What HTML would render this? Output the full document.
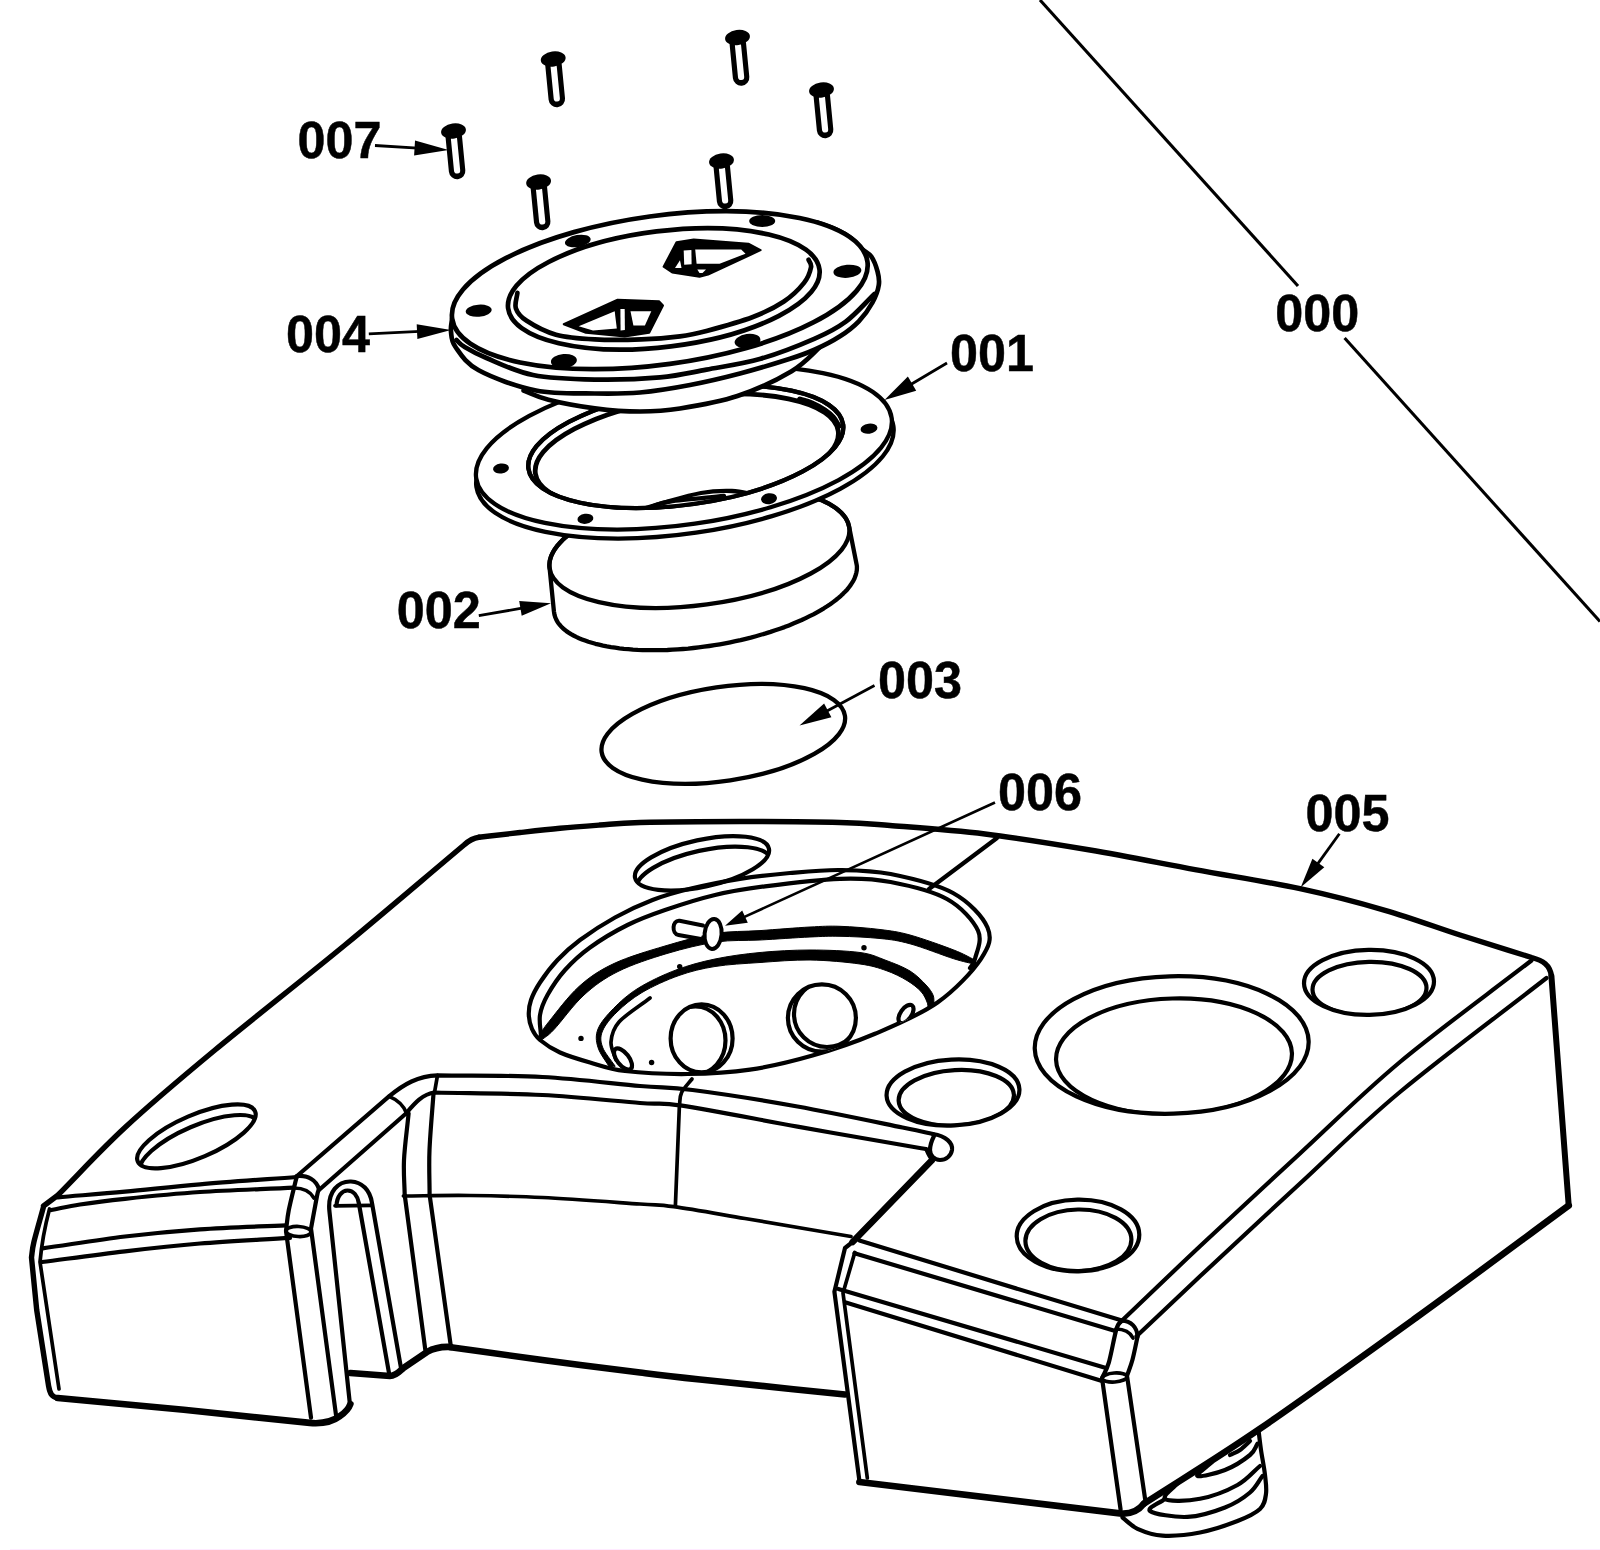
<!DOCTYPE html>
<html lang="en"><head><meta charset="utf-8"><title>Exploded parts diagram</title>
<style>
html,body{margin:0;padding:0;background:#fff}
body{width:1600px;height:1550px;overflow:hidden;font-family:"Liberation Sans",sans-serif}
svg{display:block}
path,ellipse,line,circle,polyline{fill:none;stroke:#000;stroke-width:4.2;stroke-linecap:round;stroke-linejoin:round}
.g4 path,.g4 ellipse{stroke-width:4.7}
.g1 path,.g1 ellipse{stroke-width:4.3}
.t{stroke-width:6.6}
.m{stroke-width:5.4}
.n{stroke-width:3.7}
.h{stroke-width:1.6}
.w{fill:#fff}
.k{fill:#000}
.kk{fill:#000;stroke:none}
.ww{fill:#fff;stroke:none}
text{font-family:"Liberation Sans",sans-serif;font-weight:700;font-size:52px;fill:#000;stroke:#000;stroke-width:.5}
</style></head>
<body>
<svg width="1600" height="1550" viewBox="0 0 1600 1550">
<rect x="0" y="0" width="1600" height="1550" class="ww"/>
<!-- p_base -->
<g id="base">
<path d="M479 837.3C492.7 835.7 506.5 834 520 832.5C533.5 831 546.7 829.5 560 828.3C573.3 827 586.7 826 600 825C613.3 824 616.7 823.1 640 822.5C663.3 821.9 706.7 821.5 740 821.5C773.3 821.5 815 821.8 840 822.5C865 823.2 865.8 823.6 890 825.5C914.2 827.4 951.7 829.9 985 834C1018.3 838.1 1055 844.1 1090 850C1125 855.9 1160 863.1 1195 869.6C1230 876.1 1268.3 881.9 1300 888.7C1331.7 895.5 1358.3 902.6 1385 910.3C1411.7 918 1435.5 927.1 1460 935C1484.5 942.9 1507.8 950 1531.7 957.5C1543 960.5 1550 965 1551.4 976" class="m"/>
<path d="M1551.4 976L1568.7 1205.5" class="t" style="stroke-width:6"/>
<path d="M1568.7 1205.5C1517.5 1243.2 1466.7 1281.2 1415 1318.5C1363.3 1355.8 1304 1398.6 1258.8 1429.5C1213.6 1460.4 1182.1 1479 1143.8 1503.8" class="t"/>
<path d="M479 837.3C473 838 469 840.5 464 845C424.3 878.3 386.5 910.8 345 945C303.5 979.2 251.7 1019.6 215 1050C178.3 1080.4 151.2 1103.2 125 1127.5C98.8 1151.8 80 1172.8 57.5 1195.5L43.5 1206" class="m"/>
<path d="M43.3 1207.6C40.2 1219 36 1233.4 34 1241.7C32 1250 32.3 1252.2 31.5 1257.5L36.7 1310L48.6 1386C50 1394 52 1397 57.7 1398" class="m"/>
<path d="M57.7 1398L183.7 1409.8L309.8 1422.9C322 1424 332 1422 340 1416C346 1412 349 1408 350.4 1404" class="t"/>
<path d="M57.7 1197.3C80.1 1195.4 101.3 1193.9 125 1191.7C148.7 1189.5 171.4 1186.8 200 1184.3C228.6 1181.8 264.4 1179.4 296.6 1177"/>
<path d="M51.3 1210C60.9 1208.2 67.7 1206.4 80 1204.5C92.3 1202.6 105 1200.9 125 1198.8C145 1196.7 171.8 1193.9 200 1192C228.2 1190.1 262.7 1189.1 294 1187.6"/>
<path d="M42.5 1248.3C70 1244.4 98.8 1239.7 125 1236.5C151.2 1233.3 173.2 1231.2 200 1229.3C226.8 1227.4 257.3 1226.6 286 1225.3"/>
<path d="M42 1262C69.7 1258.4 98.7 1254.4 125 1251.3C151.3 1248.2 172.5 1245.8 200 1243.5C227.5 1241.2 260 1239.7 290 1237.8"/>
<path d="M49.5 1209C45 1226 41.5 1245 40 1262L59 1389" class="n"/>
<path d="M296.6 1177C294 1188 290.6 1201 288.8 1210C287 1219 286.9 1224 286 1231L311 1417.6"/>
<path d="M319 1189C318.3 1191.3 318.3 1189.4 317 1196C315.7 1202.6 313 1217.7 311 1228.6L336 1415"/>
<path d="M296.6 1176C308 1175 316 1180 319 1189"/>
<path d="M294 1188C303 1188 310 1191 314 1198" class="n"/>
<ellipse cx="298.5" cy="1231.5" rx="12.5" ry="5" transform="rotate(3 298.5 1231.5)" class="n"/>
<path d="M297 1176L389 1096.4C404 1084 418 1076 437.5 1075.4C472.5 1075.9 508.8 1075.2 542.5 1077C576.2 1078.8 615 1083.8 640 1086C665 1088.2 666.2 1086.6 692.5 1090C718.8 1093.4 762.5 1100.2 797.5 1106.5C832.5 1112.8 879.9 1122.9 902.5 1127.5C925.1 1132.1 922.8 1131.8 933 1134"/>
<path d="M319 1190L406 1113.5C414 1104 422 1094 434.9 1092.5C470.8 1093.3 508.3 1093.2 542.5 1095C576.7 1096.8 616.8 1101.2 640 1103C663.2 1104.8 655.8 1101.7 682 1105.6C708.2 1109.5 760.8 1120 797.5 1126.6C834.2 1133.2 881.1 1141.3 902.5 1145C923.9 1148.7 918.2 1147.7 926 1149"/>
<path d="M389 1096.4C398 1100 404 1106 407 1114" class="n"/>
<path d="M437.5 1075.4L434.5 1092.5" class="n"/>
<path d="M933 1134C946 1136 953 1143 952 1150C951 1156 946 1160 940 1160C934 1160 930 1155 930 1150C930 1144 932 1140 934 1136"/>
<path d="M926 1149C928 1154 930 1158 933 1161" class="n"/>
<path d="M931.4 1160.8L852.6 1242" class="t"/>
<path d="M350 1405L329.5 1212C327 1191 339 1181 351 1181.5C362 1182 370 1190 372 1203L401 1368"/>
<path d="M336.5 1205.5C337 1196 342 1190.5 347.5 1190.5C353.5 1190.5 357.5 1196 358.8 1203L389 1373"/>
<path d="M335 1205.8L372 1205.3" class="n"/>
<path d="M350.4 1373L390 1376C396 1376 400 1371 403.4 1368L427 1352C434 1348 442 1346.5 450.6 1347" class="t"/>
<path d="M450.6 1347.3C481.2 1351.5 510.9 1355.8 542.5 1360C574.1 1364.2 613.8 1369.2 640 1372.5C666.2 1375.8 665.8 1375.8 700 1379.5C734.2 1383.2 796.7 1389.5 845 1394.5" class="t"/>
<path d="M408.6 1113.5C407.1 1129 404.6 1146.4 404 1160C403.4 1173.6 404.5 1183.3 404.7 1194.9L425.3 1349.7"/>
<path d="M433.6 1092.5C432.2 1111.7 430.2 1132.9 429.5 1150C428.8 1167.1 429.6 1179.9 429.6 1194.9L450.6 1344.5"/>
<path d="M403.4 1196C425.6 1195.8 446.8 1195.2 470 1195.5C493.2 1195.8 514.2 1196.1 542.5 1197.5C570.8 1198.9 618.1 1202.5 640 1204C661.9 1205.5 656.3 1204.3 673.8 1206.7C691.3 1209.1 715.5 1213.5 745 1218.5C774.5 1223.5 815.7 1230.5 851 1236.5" class="n"/>
<path d="M692 1079C688.5 1083.5 683.7 1088.1 681.6 1092.5C679.5 1096.9 680.1 1101.2 679.4 1105.6L675.4 1205.4" class="n"/>
<path d="M859.4 1240.6L1121.9 1320.6"/>
<path d="M854.5 1253.2L1115.3 1331"/>
<path d="M838.4 1289L1106 1367.9"/>
<path d="M845 1302.3L1102 1381"/>
<path d="M852.6 1242L845 1248L834.4 1291.7L859.4 1480.8"/>
<path d="M854.8 1252.5L843 1293L867.3 1478" class="n"/>
<path d="M859.4 1482L1121.9 1513.6C1132 1514 1139 1510 1143.8 1503.8" class="t"/>
<path d="M1121.9 1320.6C1120.1 1323.2 1118.8 1321.5 1116.6 1328.5C1114.4 1335.5 1111.2 1354.3 1108.8 1362.6C1106.4 1370.8 1104.3 1372.9 1102 1378L1120.6 1509.6"/>
<path d="M1137.6 1336.4C1135.9 1344.3 1134.2 1353.4 1132.4 1360C1130.6 1366.6 1128.8 1370.5 1127 1375.8L1145.5 1501.7"/>
<path d="M1121.9 1320.6C1131 1321 1137 1327 1137.6 1336.4"/>
<path d="M1116 1329C1124 1329 1130 1332 1133 1338" class="n"/>
<ellipse cx="1114.5" cy="1377.5" rx="12.5" ry="4.5" transform="rotate(-4 1114.5 1377.5)" class="n"/>
<path d="M1120.5 1322C1147 1296.8 1170.1 1274.4 1200 1246.3C1229.9 1218.2 1266.7 1184.2 1300 1153.5C1333.3 1122.8 1361.4 1094.2 1400 1062C1438.6 1029.8 1487.7 994.3 1531.5 960.5"/>
<path d="M1136.5 1336.3C1157.7 1316.3 1172.8 1301.8 1200 1276.3C1227.2 1250.8 1266.7 1214.2 1300 1183.5C1333.3 1152.8 1358.9 1126.2 1400 1092C1441.1 1057.8 1497.7 1016 1546.5 978"/>
<path d="M1258.8 1432.5C1259.5 1438.3 1260 1442.9 1261 1450C1262 1457.1 1264.2 1467.7 1265 1475C1265.8 1482.3 1266.8 1488.1 1266 1493.8C1265.2 1499.5 1264.8 1504.5 1260 1509C1255.2 1513.5 1247.5 1517.1 1237.5 1521C1227.5 1524.9 1212.5 1530.1 1200 1532.5C1187.5 1534.9 1172.9 1536.2 1162.5 1535.6C1152.1 1535 1144.2 1531.8 1137.5 1528.8C1130.8 1525.8 1127.5 1521.3 1122.5 1517.5"/>
<path d="M1230 1455C1233.3 1453.3 1236.7 1452.3 1240 1450C1243.3 1447.7 1246.7 1444 1250 1441"/>
<path d="M1212 1462C1207.2 1466.7 1195.3 1474.7 1197.5 1476C1199.7 1477.3 1216.2 1473.5 1225 1470C1233.8 1466.5 1244.6 1459.4 1250 1455C1255.4 1450.6 1255 1447.5 1257.5 1443.8"/>
<path d="M1181 1480C1175.7 1486.3 1161.8 1495.7 1165 1498.8C1168.2 1501.9 1187.9 1501.1 1200 1498.8C1212.1 1496.5 1227.5 1490.5 1237.5 1485C1247.5 1479.5 1252.5 1472.3 1260 1466"/>
<path d="M1165 1498.8C1160 1502.9 1146.2 1508 1150 1511C1153.8 1514 1175 1517.5 1187.5 1516.9C1200 1516.3 1214.6 1511.6 1225 1507.5C1235.4 1503.4 1243.8 1497.8 1250 1492.5C1256.2 1487.2 1258.3 1481.5 1262.5 1476"/>
<clipPath id="hc1"><ellipse cx="196.4" cy="1136.4" rx="63.8" ry="21.5" transform="rotate(-23.2 196.4 1136.4)"/></clipPath>
<ellipse cx="196.4" cy="1136.4" rx="63.8" ry="21.5" transform="rotate(-23.2 196.4 1136.4)"/>
<g clip-path="url(#hc1)"><ellipse cx="199" cy="1147" rx="63.8" ry="21.5" transform="rotate(-23.2 199 1147)"/></g>
<clipPath id="hc2"><ellipse cx="702" cy="863.3" rx="68.5" ry="23.5" transform="rotate(-12.3 702 863.3)"/></clipPath>
<ellipse cx="702" cy="863.3" rx="68.5" ry="23.5" transform="rotate(-12.3 702 863.3)"/>
<g clip-path="url(#hc2)"><ellipse cx="704" cy="873.8" rx="68.5" ry="23.5" transform="rotate(-12.3 704 873.8)"/></g>
<clipPath id="hc3"><ellipse cx="953" cy="1092.5" rx="66.5" ry="33" transform="rotate(-3 953 1092.5)"/></clipPath>
<ellipse cx="953" cy="1092.5" rx="66.5" ry="33" transform="rotate(-3 953 1092.5)"/>
<g clip-path="url(#hc3)"><ellipse cx="956.3" cy="1097.8" rx="57.7" ry="27.8" transform="rotate(-3 956.3 1097.8)"/></g>
<clipPath id="hc4"><ellipse cx="1078" cy="1235.5" rx="61.3" ry="35.8" transform="rotate(-1 1078 1235.5)"/></clipPath>
<ellipse cx="1078" cy="1235.5" rx="61.3" ry="35.8" transform="rotate(-1 1078 1235.5)"/>
<g clip-path="url(#hc4)"><ellipse cx="1078.4" cy="1240.3" rx="53" ry="30.8" transform="rotate(-1 1078.4 1240.3)"/></g>
<clipPath id="hc5"><ellipse cx="1369" cy="982.4" rx="65" ry="32.5" transform="rotate(-1 1369 982.4)"/></clipPath>
<ellipse cx="1369" cy="982.4" rx="65" ry="32.5" transform="rotate(-1 1369 982.4)"/>
<g clip-path="url(#hc5)"><ellipse cx="1369.5" cy="988.8" rx="57" ry="27" transform="rotate(-1 1369.5 988.8)"/></g>
<clipPath id="hc6"><ellipse cx="1171.7" cy="1045" rx="137" ry="68.7" transform="rotate(-1.6 1171.7 1045)"/></clipPath>
<ellipse cx="1171.7" cy="1045" rx="137" ry="68.7" transform="rotate(-1.6 1171.7 1045)"/>
<g clip-path="url(#hc6)"><ellipse cx="1174" cy="1056.5" rx="118" ry="58" transform="rotate(-1.6 1174 1056.5)"/></g>
</g>
<!-- p_recess -->
<g id="recess">
<path d="M528.8 1015C528.6 1010.2 529.1 1005.4 531 1000C532.9 994.6 535.6 989.2 540 982.5C544.4 975.8 550.8 967.1 557.5 960C564.2 952.9 570.4 947.1 580 940C589.6 932.9 602.9 924.2 615 917.5C627.1 910.8 640 904.8 652.5 900C665 895.2 675.4 892.3 690 888.8C704.6 885.3 723.3 881.4 740 878.8C756.7 876.2 773.3 874.5 790 873C806.7 871.5 823.2 869.8 840 870C856.8 870.2 871.8 870.2 890.6 874C909.4 877.8 936.9 884.1 953 893C969.1 901.9 982.8 916.5 987.5 927.5C992.2 938.5 989.3 946.2 981 958.8C972.7 971.2 955.2 990 937.5 1002.5C919.8 1015 895.8 1024.9 875 1033.8C854.2 1042.6 833.3 1049.6 812.5 1055.6C791.7 1061.6 770.8 1066.6 750 1069.7C729.2 1072.8 708.3 1073.8 687.5 1074C666.7 1074.2 641.2 1072.9 625 1071C608.8 1069.1 600.8 1065.6 590 1062.5C579.2 1059.4 568.3 1056.2 560 1052.5C551.7 1048.8 544.7 1043.9 540 1040C535.3 1036.1 533.9 1033.2 532 1029C530.1 1024.8 529 1019.8 528.8 1015Z"/>
<clipPath id="rc1"><path d="M528.8 1015C528.6 1010.2 529.1 1005.4 531 1000C532.9 994.6 535.6 989.2 540 982.5C544.4 975.8 550.8 967.1 557.5 960C564.2 952.9 570.4 947.1 580 940C589.6 932.9 602.9 924.2 615 917.5C627.1 910.8 640 904.8 652.5 900C665 895.2 675.4 892.3 690 888.8C704.6 885.3 723.3 881.4 740 878.8C756.7 876.2 773.3 874.5 790 873C806.7 871.5 823.2 869.8 840 870C856.8 870.2 871.8 870.2 890.6 874C909.4 877.8 936.9 884.1 953 893C969.1 901.9 982.8 916.5 987.5 927.5C992.2 938.5 989.3 946.2 981 958.8C972.7 971.2 955.2 990 937.5 1002.5C919.8 1015 895.8 1024.9 875 1033.8C854.2 1042.6 833.3 1049.6 812.5 1055.6C791.7 1061.6 770.8 1066.6 750 1069.7C729.2 1072.8 708.3 1073.8 687.5 1074C666.7 1074.2 641.2 1072.9 625 1071C608.8 1069.1 600.8 1065.6 590 1062.5C579.2 1059.4 568.3 1056.2 560 1052.5C551.7 1048.8 544.7 1043.9 540 1040C535.3 1036.1 533.9 1033.2 532 1029C530.1 1024.8 529 1019.8 528.8 1015Z"/></clipPath>
<g clip-path="url(#rc1)">
<path d="M541 1036C540.7 1029 538.9 1021.8 540 1015C541.1 1008.2 543.3 1002.5 547.5 995C551.7 987.5 557.9 977.9 565 970C572.1 962.1 579.6 955 590 947.5C600.4 940 615 931.2 627.5 925C640 918.8 650.4 915 665 910C679.6 905 698.3 899 715 895C731.7 891 744.2 889 765 886.3C785.8 883.6 819.1 879.5 840 878.8C860.9 878.1 872.8 878.6 890.6 882C908.4 885.4 932.3 890.9 946.9 899C961.5 907.1 973.3 920.6 978 930.6C982.7 940.6 976.3 952.5 975 958.8C973.7 965 971.7 964.9 970 968"/>
<path d="M539.5 1035C542.7 1030.5 542.4 1029.6 549 1021.5C555.6 1013.4 568.2 996.2 579 986.5C589.8 976.8 599.7 970.2 614 963.5C628.3 956.8 648.2 951 665 946C681.8 941 699.2 936.1 715 933.5C730.8 930.9 744.2 931.7 760 930.6C775.8 929.5 796.7 927.7 810 927C823.3 926.3 828.3 925.9 840 926.3C851.7 926.7 868.3 928 880 929.5C891.7 931 897.7 931.6 910 935C922.3 938.4 942.9 945.8 953.8 950C964.6 954.2 967.9 956.7 975 960L976 964.5C968.6 962.6 964.8 962.2 953.8 958.8C942.8 955.3 922.3 947.1 910 943.8C897.7 940.4 891.7 939.7 880 938.5C868.3 937.3 851.7 936.5 840 936.3C828.3 936 823.3 936.4 810 937C796.7 937.6 775.6 939.2 760 940C744.4 940.8 732 939.8 716.5 942C701 944.2 683.4 948.6 667 953.5C650.6 958.4 631.8 964.6 618 971.5C604.2 978.4 594.7 985.3 584 995C573.3 1004.7 561.1 1022 554 1029.5C546.9 1037 545.7 1036.5 541.5 1040Z" class="k" style="stroke-width:1"/>
<path d="M610 1068C606 1061.2 600 1054 598 1047.5C596 1041 595.4 1035.5 598 1029C600.6 1022.5 606.8 1015.3 613.5 1008.5C620.2 1001.7 628.1 994.4 638.5 988C648.9 981.6 663.2 974.8 676 970C688.8 965.2 701 961.9 715 959C729 956.1 744.2 954 760 952.5C775.8 951 793.3 950 810 950C826.7 950 847.5 950.8 860 952.5C872.5 954.2 876.7 956.9 885 960C893.3 963.1 903.2 966.8 910 971C916.8 975.2 922.2 981 926 985C929.8 989 931.7 992 933 995C934.3 998 933.7 1000.3 934 1003L928 1008C927.7 1006 928.2 1004.8 927 1002C925.8 999.2 924.3 995.1 921 991.5C917.7 987.9 912.8 984 907 980.5C901.2 977 893.8 973.2 886 970.5C878.2 967.8 872.7 965.8 860 964C847.3 962.2 826.7 960.2 810 960C793.3 959.8 775.8 961.4 760 962.5C744.2 963.6 728.5 964.3 715 966.5C701.5 968.7 691.2 971.2 679 975.5C666.8 979.8 652.3 986.4 642 992.5C631.7 998.6 623.6 1005.6 617 1012C610.4 1018.4 604.9 1025.2 602.5 1031C600.1 1036.8 600.4 1041.2 602.5 1047C604.6 1052.8 610.8 1059.7 615 1066Z" class="k" style="stroke-width:1"/>
<path d="M616 1060C614.3 1054 610.5 1048.3 611 1042C611.5 1035.7 612.5 1029.3 619 1022C625.5 1014.7 639.7 1006 650 998" class="n"/>
<clipPath id="rca"><ellipse cx="701.6" cy="1038.4" rx="31" ry="34"/></clipPath>
<ellipse cx="701.6" cy="1038.4" rx="31" ry="34" class="w"/>
<g clip-path="url(#rca)"><ellipse cx="695.5" cy="1040.5" rx="30" ry="34"/></g>
<clipPath id="rcb"><ellipse cx="821.9" cy="1018" rx="34" ry="33.6"/></clipPath>
<ellipse cx="821.9" cy="1018" rx="34" ry="33.6" class="w"/>
<g clip-path="url(#rcb)"><ellipse cx="827" cy="1014" rx="33" ry="33"/></g>
<ellipse cx="906" cy="1014" rx="10.5" ry="5.5" transform="rotate(-55 906 1014)" class="w"/>
<ellipse cx="623" cy="1059" rx="12.5" ry="6" transform="rotate(52 623 1059)" class="w"/>
</g>
<circle cx="679.7" cy="966.6" r="2.7" class="kk"/>
<circle cx="864" cy="947.8" r="2.7" class="kk"/>
<circle cx="581" cy="1038.4" r="2.7" class="kk"/>
<circle cx="651.6" cy="1062.5" r="2.7" class="kk"/>
<path d="M997 838L929 889"/>
<path d="M703 925.5L679.5 920.8C672 920 671.5 934 678.5 935L701 939" class="w" style="stroke-width:4"/>
<ellipse cx="713.1" cy="934" rx="8.5" ry="15" transform="rotate(5 713.1 934)" class="w" style="stroke-width:4"/>
</g>
<!-- p_stack -->
<g id="p003" class="g1">
<ellipse cx="723.3" cy="733.9" rx="123" ry="47" transform="rotate(-8.5 723.3 733.9)" class="m"/>
</g>
<g id="p002" class="g1">
<path d="M549.4 564.1L549.6 562L550 560L550.5 557.9L551.2 555.9L552.2 553.8L553.3 551.7L554.5 549.6L556 547.5L557.6 545.4L559.4 543.3L561.4 541.2L563.5 539.1L565.8 537L568.3 535L570.9 533L573.7 530.9L576.6 528.9L579.7 527L582.9 525L586.3 523.1L589.8 521.2L593.5 519.3L597.2 517.5L601.1 515.7L605.1 513.9L609.3 512.2L613.5 510.6L617.9 508.9L622.3 507.4L626.8 505.8L631.5 504.4L636.2 502.9L641 501.6L645.8 500.2L650.8 499L655.7 497.8L660.8 496.7L665.9 495.6L671 494.6L676.1 493.6L681.3 492.8L686.5 492L691.8 491.2L697 490.5L702.2 489.9L707.5 489.4L712.7 488.9L717.9 488.6L723.1 488.2L728.2 488L733.4 487.8L738.4 487.7L743.5 487.7L748.4 487.8L753.4 487.9L758.2 488.1L763 488.3L767.7 488.7L772.3 489.1L776.8 489.6L781.3 490.1L785.6 490.7L789.9 491.4L794 492.2L798 493L801.9 493.9L805.6 494.9L809.3 495.9L812.8 497L816.1 498.1L819.3 499.4L822.4 500.6L825.3 502L828.1 503.4L830.7 504.8L833.2 506.3L835.5 507.8L837.6 509.4L839.5 511.1L841.3 512.7L842.9 514.5L844.4 516.2L845.6 518L846.7 519.9L847.6 521.7L848.3 523.6L848.9 525.6L856.6 564.3L856.9 566.3L856.9 568.3L856.8 570.3L856.4 572.4L855.9 574.5L855.2 576.6L854.4 578.7L853.3 580.8L852 582.9L850.6 585.1L849 587.2L847.3 589.4L845.3 591.5L843.2 593.6L840.9 595.8L838.5 597.9L835.9 600L833.1 602.1L830.2 604.2L827.1 606.3L823.9 608.3L820.5 610.3L817 612.3L813.4 614.3L809.6 616.2L805.7 618.1L801.7 620L797.5 621.8L793.3 623.6L788.9 625.4L784.5 627.1L779.9 628.7L775.2 630.3L770.5 631.9L765.7 633.4L760.8 634.8L755.9 636.2L750.8 637.6L745.8 638.8L740.6 640.1L735.5 641.2L730.3 642.3L725.1 643.3L719.8 644.3L714.5 645.2L709.2 646L704 646.7L698.7 647.4L693.4 648L688.1 648.6L682.9 649L677.7 649.4L672.5 649.7L667.4 650L662.3 650.1L657.2 650.2L652.2 650.2L647.3 650.2L642.5 650.1L637.7 649.9L633 649.6L628.4 649.2L623.9 648.8L619.5 648.3L615.2 647.7L611 647.1L606.9 646.4L603 645.6L599.1 644.7L595.4 643.8L591.9 642.8L588.4 641.8L585.1 640.6L582 639.4L579 638.2L576.2 636.9L573.5 635.5L571 634.1L568.6 632.6L566.4 631.1L564.4 629.5L562.5 627.9L560.9 626.2L559.4 624.5L558 622.7L556.9 620.9L556 619L555.2 617.2L554.6 615.2L554.2 613.3L553.9 611.3L549.6 568.1L549.4 566.1Z" class="w"/>
<ellipse cx="699.4" cy="547.8" rx="151.2" ry="57.1" transform="rotate(-7.7 699.4 547.8)"/>
</g>
<g id="p001" class="g1">
<ellipse cx="684.9" cy="456.5" rx="210.7" ry="77" transform="rotate(-8.3 684.9 456.5)" class="w"/>
<ellipse cx="683.9" cy="448" rx="209.9" ry="76.5" transform="rotate(-8.3 683.9 448)" class="w"/>
<clipPath id="gc2"><ellipse cx="685.8" cy="446.7" rx="158.9" ry="57.7" transform="rotate(-8 685.8 446.7)"/></clipPath>
<ellipse cx="685.8" cy="446.7" rx="158.9" ry="57.7" transform="rotate(-8 685.8 446.7)" class="w"/>
<g clip-path="url(#gc2)">
<ellipse cx="686.8" cy="452.2" rx="152.9" ry="54.7" transform="rotate(-8 686.8 452.2)" style="stroke-width:4.8"/>
<path d="M800 399.5C804 400.8 807.9 401.7 812 403.5C816.1 405.3 821.3 408.1 824.8 410.4C828.3 412.7 830.7 414.9 833 417.5C835.3 420.1 836.7 423.2 838.5 426" style="stroke-width:6"/>
<path d="M630 513C640.3 509.8 649.2 506.8 661 503.5C672.8 500.2 689.2 495.1 701 493C712.8 490.9 722.8 490.7 732 491C741.2 491.3 748 493.7 756 495" class="w"/>
<path d="M652 506.5C658 504.8 658 503.2 670 501.5C682 499.8 706 497.8 724 496" class="n"/>
</g>
<ellipse cx="685.8" cy="446.7" rx="158.9" ry="57.7" transform="rotate(-8 685.8 446.7)"/>
<ellipse cx="501" cy="468.5" rx="8" ry="5" transform="rotate(-8 501 468.5)" class="kk"/>
<ellipse cx="585.4" cy="518.8" rx="8" ry="5" transform="rotate(-8 585.4 518.8)" class="kk"/>
<ellipse cx="869" cy="428.7" rx="8.5" ry="5" transform="rotate(-8 869 428.7)" class="kk"/>
<ellipse cx="769" cy="498.7" rx="8" ry="5.5" transform="rotate(-8 769 498.7)" class="kk"/>
</g>
<!-- p_cover -->
<defs><g id="scr"><path d="M0.3 6L3.6 40" style="stroke-width:16.5;stroke-linecap:round"/><path d="M0.5 8L3.6 39.5" style="stroke:#fff;stroke-width:6.2;stroke-linecap:round"/><ellipse cx="0" cy="0" rx="12.5" ry="7.5" class="kk" transform="rotate(-8)"/></g></defs>
<g id="p004" class="g4">
<use href="#scr" x="721.5" y="161"/>
<path d="M822.6 344.8C812.3 353.6 805.8 362.7 791.6 371.2C777.4 379.7 756 389.8 737.4 396C718.8 402.2 696.2 405.9 680 408.5C663.8 411.1 654.2 411.5 640 411.5C625.8 411.5 610.1 410.3 594.8 408.3C579.5 406.3 560.3 402.7 548.4 399.7C536.5 396.7 531.9 393.6 523.6 390.5L600 340Z" class="w"/>
<path d="M817.2 222.4C823.7 224.8 830.8 226.9 836.5 229.6C842.2 232.2 847.2 235 851.5 238.3C855.7 241.5 858.7 246 862 249C865.3 252 868.7 252.8 871.3 256.5C873.9 260.2 876.2 266.6 877.5 271.3C878.8 276.1 879.6 279.8 878.8 285C878 290.2 875.8 296.4 872.5 302.5C869.2 308.6 864.2 315.7 858.8 321.3C853.4 326.9 847.3 331.6 840 336.3C832.7 341 823.3 345.8 815 349.5C806.7 353.2 802.5 354.8 790 358.8C777.5 362.8 756.7 369.1 740 373.5C723.3 377.9 706.7 381.8 690 385C673.3 388.2 655.9 391.1 640 392.5C624.1 393.9 612.1 393.8 594.8 393.5C577.5 393.2 555.4 394.4 536 390.5C516.6 386.6 492.1 377.6 478.7 370.3C465.3 363.1 460.1 353.4 455.5 347C450.9 340.6 451.6 336.4 451 331.6C450.4 326.8 451.8 322.5 452.2 318L660 288Z" class="ww"/>
<path d="M817.2 222.4C823.7 224.8 830.8 226.9 836.5 229.6C842.2 232.2 847.2 235 851.5 238.3C855.7 241.5 858.7 246 862 249C865.3 252 868.7 252.8 871.3 256.5C873.9 260.2 876.2 266.6 877.5 271.3C878.8 276.1 879.6 279.8 878.8 285C878 290.2 875.8 296.4 872.5 302.5C869.2 308.6 864.2 315.7 858.8 321.3C853.4 326.9 847.3 331.6 840 336.3C832.7 341 823.3 345.8 815 349.5C806.7 353.2 802.5 354.8 790 358.8C777.5 362.8 756.7 369.1 740 373.5C723.3 377.9 706.7 381.8 690 385C673.3 388.2 655.9 391.1 640 392.5C624.1 393.9 612.1 393.8 594.8 393.5C577.5 393.2 555.4 394.4 536 390.5C516.6 386.6 492.1 377.6 478.7 370.3C465.3 363.1 460.1 353.4 455.5 347C450.9 340.6 451.6 336.4 451 331.6C450.4 326.8 451.8 322.5 452.2 318"/>
<path d="M874.5 294C864.9 303.2 855.8 314.2 845.8 321.6C835.8 329 829 332.4 814.8 338.6C800.6 344.8 778.6 353.6 760.6 358.8C742.6 364 723.3 366.5 706.5 369.6C689.7 372.7 678.6 375.7 660 377.4C641.4 379.1 616 380 594.8 379.6C573.6 379.2 551 378.6 533 375C515 371.4 498 362.8 486.5 358C475 353.2 469 349.5 464 346.5C459 343.5 459 342.2 456.5 340"/>
<ellipse cx="659.8" cy="290.2" rx="209.6" ry="74.4" transform="rotate(-7.8 659.8 290.2)" class="w"/>
<ellipse cx="663.8" cy="288.9" rx="156.9" ry="57.9" transform="rotate(-7.1 663.8 288.9)"/>
<path d="M517.4 292.9C516.9 298.1 514.3 303.8 515.9 308.4C517.5 313 520 316.4 526.7 320.8C533.4 325.2 544.6 331.6 556 334.7C567.4 337.8 580.6 338.6 594.8 339.4C609 340.2 627.1 339.9 641.3 339.4C655.5 338.9 669.1 337.7 680 336.3C690.9 334.9 694.4 334.1 706.5 330.9C718.6 327.7 740 321.9 752.9 317C765.8 312.1 775.4 307.2 783.9 301.5C792.4 295.8 799.5 288.6 804 282.9C808.5 277.2 810.2 271.3 811 267.4C811.8 263.5 809.4 262.3 808.6 259.7"/>
<ellipse cx="478.7" cy="310.7" rx="13" ry="6" transform="rotate(-5 478.7 310.7)" class="kk"/>
<ellipse cx="577.8" cy="241" rx="13" ry="6" transform="rotate(-10 577.8 241)" class="kk"/>
<ellipse cx="563.9" cy="361" rx="13" ry="7" transform="rotate(-5 563.9 361)" class="kk"/>
<ellipse cx="762.2" cy="221" rx="13" ry="6" class="kk"/>
<ellipse cx="847.4" cy="271.3" rx="14" ry="6.5" transform="rotate(-5 847.4 271.3)" class="kk"/>
<ellipse cx="747.5" cy="341" rx="13" ry="7" transform="rotate(-8 747.5 341)" class="kk"/>
<path d="M563.7 324.2L617.6 299.7L659 301.3L663 305.5L649.2 332.8L624.7 336.4L585.9 332.8Z" class="k" style="stroke-width:2"/>
<path d="M578.7 326.3L614.7 311.2L616.8 328.5L593 330.6Z" class="ww"/>
<path d="M620.4 309L624.7 309L624.9 330L620.6 330.5Z" class="ww"/>
<path d="M630.5 311.2L651.3 311.2L644.9 325.6L633.4 325.6Z" class="ww"/>
<path d="M663.6 266.7L676.5 242.2L693.7 239.4L748.4 243.7L760.6 250.2L708.1 274.6L699.5 276.7L672.2 272.4Z" class="k" style="stroke-width:2"/>
<path d="M675 268.1L680 260.2L681.5 268.1Z" class="ww"/>
<path d="M683.7 250.4L691.4 250L691.6 264.3L684.2 264.7Z" class="ww"/>
<path d="M695.2 249.4L741.2 249.6L745.5 253.7L719.6 263.8L696.6 263.8Z" class="ww"/>
<path d="M697.3 269.5L706 269.5L702.5 273L699.5 273Z" class="ww"/>
<use href="#scr" x="553.2" y="59"/>
<use href="#scr" x="737.5" y="37.5"/>
<use href="#scr" x="821.5" y="90"/>
<use href="#scr" x="453.5" y="131"/>
<use href="#scr" x="538.6" y="182"/>
</g>
<!-- p_labels -->
<g id="labels">
<path d="M1040 0L1298 286" style="stroke-width:3.1;stroke-linecap:butt"/>
<path d="M1344.6 338L1600 621.5" style="stroke-width:3.1;stroke-linecap:butt"/>
<path d="M375 145.5L417.6 148.1" style="stroke-width:2.8;stroke-linecap:butt"/>
<path d="M448.5 150L414.1 155.4L415 140.4Z" class="kk"/>
<path d="M368.8 333.8L420 331.4" style="stroke-width:2.8;stroke-linecap:butt"/>
<path d="M451 330L417.4 338.9L416.7 324.3Z" class="kk"/>
<path d="M947 363L909.5 385.2" style="stroke-width:2.8;stroke-linecap:butt"/>
<path d="M884.5 400L907.9 376.6L916.2 390.8Z" class="kk"/>
<path d="M478.8 615.6L523.4 607.9" style="stroke-width:2.8;stroke-linecap:butt"/>
<path d="M551 603.2L521.7 615.8L519.2 601.1Z" class="kk"/>
<path d="M874.5 685.5L825.1 711.9" style="stroke-width:2.8;stroke-linecap:butt"/>
<path d="M799.5 725.5L824.1 703.6L831.4 717.2Z" class="kk"/>
<path d="M995 802.5L742.3 917.9" style="stroke-width:2.6;stroke-linecap:butt"/>
<path d="M725 925.8L742.2 910.6L747.8 922.8Z" class="kk"/>
<path d="M1339.4 833.8L1316.6 865.4" style="stroke-width:2.8;stroke-linecap:butt"/>
<path d="M1300.8 887.3L1312.4 858.7L1324.3 867.2Z" class="kk"/>
<text x="297.5" y="158.3" textLength="84" lengthAdjust="spacingAndGlyphs">007</text>
<text x="286.0" y="352" textLength="84" lengthAdjust="spacingAndGlyphs">004</text>
<text x="949.9" y="371.4" textLength="84" lengthAdjust="spacingAndGlyphs">001</text>
<text x="396.8" y="628.2" textLength="84" lengthAdjust="spacingAndGlyphs">002</text>
<text x="878.0" y="697.5" textLength="84" lengthAdjust="spacingAndGlyphs">003</text>
<text x="1275.3" y="330.5" textLength="84" lengthAdjust="spacingAndGlyphs">000</text>
<text x="998.0" y="809.5" textLength="84" lengthAdjust="spacingAndGlyphs">006</text>
<text x="1305.6" y="830.5" textLength="84" lengthAdjust="spacingAndGlyphs">005</text>
</g>
<rect x="10" y="1549" width="1590" height="1" style="fill:#ffeaff;stroke:none"/>
</svg>
</body></html>
